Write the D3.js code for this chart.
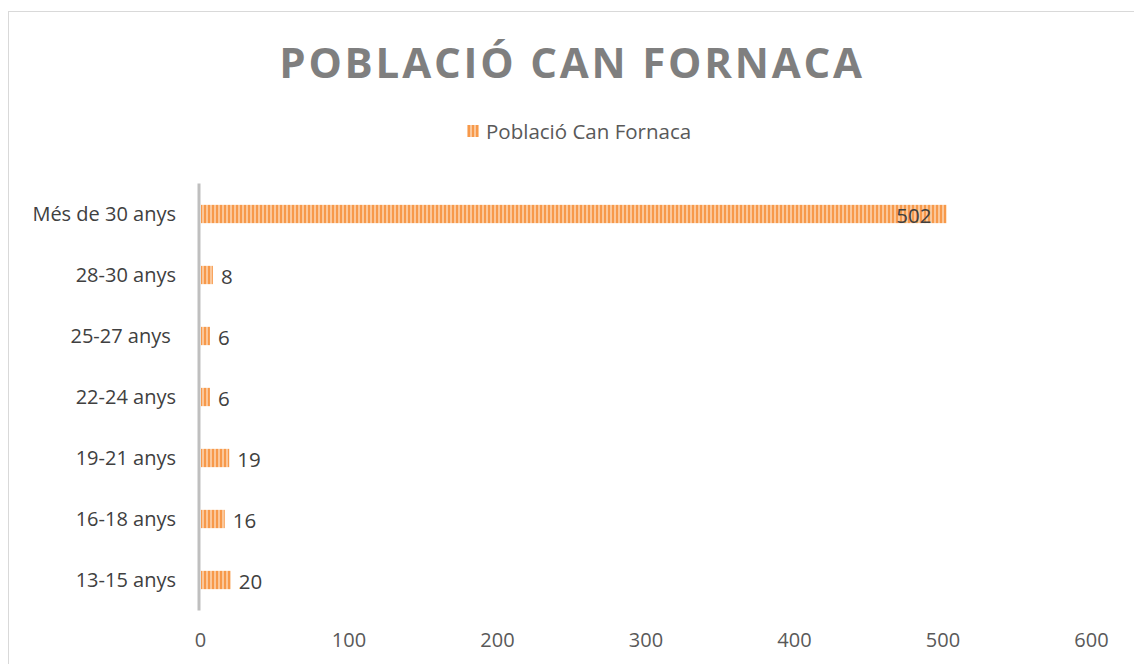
<!DOCTYPE html>
<html>
<head>
<meta charset="utf-8">
<script src="https://cdn.jsdelivr.net/npm/d3@7"></script>
<style>
  body { margin: 0; background: #fff; }
  text { font-family: "Open Sans", sans-serif; }
</style>
</head>
<body>
<svg id="chart" width="1134" height="664"></svg>
<script>
// Data
const categories = ['Més de 30 anys', '28-30 anys', '25-27 anys ', '22-24 anys', '19-21 anys', '16-18 anys', '13-15 anys'];
const values = [502, 8, 6, 6, 19, 16, 20];
const tickValues = [0, 100, 200, 300, 400, 500, 600];
const seriesName = 'Població Can Fornaca';
const title = 'POBLACIÓ CAN FORNACA';

const svg = d3.select('#chart');

// chart frame
svg.append('rect')
  .attr('x', 8.5).attr('y', 11.5)
  .attr('width', 1140).attr('height', 700)
  .attr('fill', 'none')
  .attr('stroke', '#d9d9d9');

// striped fill
const defs = svg.append('defs');
const pat = defs.append('pattern')
  .attr('id', 'stripes')
  .attr('patternUnits', 'userSpaceOnUse')
  .attr('width', 4).attr('height', 4);
pat.append('rect').attr('width', 4).attr('height', 4).attr('fill', '#fbc79a');
pat.append('rect').attr('width', 2).attr('height', 4).attr('fill', '#f7994a');

const x = d3.scaleLinear().domain([0, 600]).range([201, 1092]);
const y = d3.scaleBand().domain(categories).range([183.5, 610.5]).paddingInner(0.7).paddingOuter(0.35);

// title
svg.append('text')
  .attr('x', 572).attr('y', 78)
  .attr('text-anchor', 'middle')
  .attr('fill', '#7f7f7f')
  .attr('font-size', 42)
  .attr('font-weight', 'bold')
  .attr('letter-spacing', 2.8)
  .text(title);

// legend
svg.append('rect')
  .attr('x', 467).attr('y', 125)
  .attr('width', 12).attr('height', 12)
  .attr('fill', 'url(#stripes)');
svg.append('text')
  .attr('x', 486).attr('y', 139)
  .attr('fill', '#595959')
  .attr('font-size', 20.5)
  .text(seriesName);

// bars
svg.selectAll('.bar')
  .data(values)
  .enter()
  .append('rect')
  .attr('class', 'bar')
  .attr('x', x(0))
  .attr('y', (d, i) => y(categories[i]))
  .attr('width', d => x(d) - x(0))
  .attr('height', y.bandwidth())
  .attr('fill', 'url(#stripes)');

// value labels
svg.selectAll('.val')
  .data(values)
  .enter()
  .append('text')
  .attr('class', 'val')
  .attr('x', d => d > 400 ? x(d) - 15 : x(d) + 8)
  .attr('y', (d, i) => y(categories[i]) + y.bandwidth() / 2 + 8.5)
  .attr('text-anchor', d => d > 400 ? 'end' : 'start')
  .attr('fill', '#404040')
  .attr('font-size', 20.5)
  .text(d => d);

// category axis
svg.append('line')
  .attr('x1', 199).attr('x2', 199)
  .attr('y1', 183.5).attr('y2', 610.5)
  .attr('stroke', '#bfbfbf')
  .attr('stroke-width', 3);

svg.selectAll('.cat')
  .data(categories)
  .enter()
  .append('text')
  .attr('class', 'cat')
  .attr('x', 176)
  .attr('y', d => y(d) + y.bandwidth() / 2 + 7)
  .attr('text-anchor', 'end')
  .attr('fill', '#404040')
  .attr('font-size', 20)
  .style('white-space', 'pre')
  .text(d => d);

// value axis ticks
const xAxis = d3.axisBottom(x).tickValues(tickValues).tickSize(0).tickPadding(0);
const gx = svg.append('g')
  .attr('transform', 'translate(-1,633)')
  .call(xAxis);
gx.select('.domain').remove();
gx.selectAll('text')
  .attr('fill', '#595959')
  .attr('font-size', 20)
  .attr('font-family', '"Open Sans", sans-serif');
</script>
</body>
</html>
